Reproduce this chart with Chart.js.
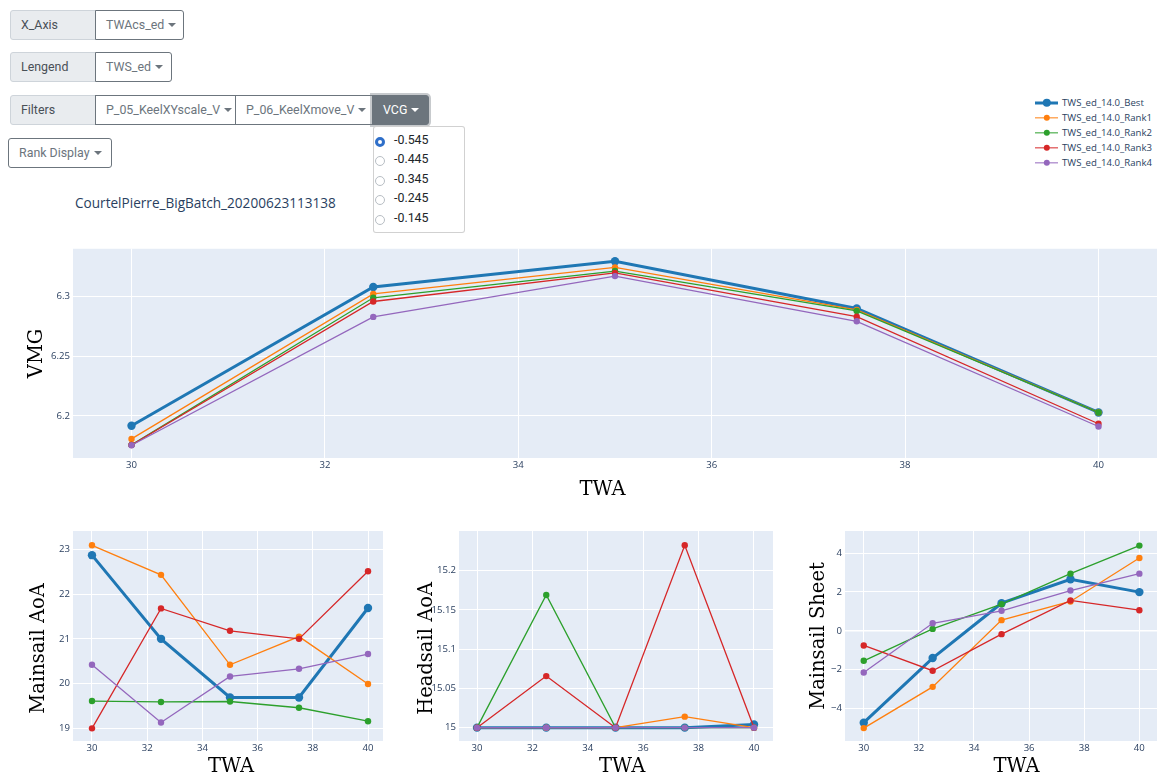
<!DOCTYPE html>
<html>
<head>
<meta charset="utf-8">
<title>VMG / sail settings by TWA</title>
<script src="https://cdn.jsdelivr.net/npm/chart.js@4.4.1/dist/chart.umd.min.js"></script>
<style>
  html, body { margin: 0; padding: 0; }
  body {
    width: 1157px; height: 776px; overflow: hidden; position: relative; background: #fff;
    font-family: Roboto, "Segoe UI", Arial, sans-serif; font-size: 12.4px; color: #495057;
  }
  .row { position: absolute; left: 10px; height: 30px; display: flex; }
  .addon {
    box-sizing: border-box; width: 86px; height: 30px; line-height: 28px; padding-left: 10px;
    background: #e9ecef; border: 1px solid #ced4da; border-radius: 3px 0 0 3px;
  }
  .dd {
    box-sizing: border-box; height: 30px; line-height: 28px; padding-left: 10px; background: #fff;
    border: 1px solid #6c757d; color: #6c757d; white-space: nowrap; margin-left: -1px;
  }
  .dd:last-child { border-radius: 0 3px 3px 0; }
  .dd.open { background: #6c757d; color: #fff; box-shadow: 0 0 0 2px rgba(130, 138, 145, .45); }
  .caret {
    display: inline-block; margin-left: 4px; vertical-align: 2px;
    border-top: 4px solid; border-left: 4px solid transparent; border-right: 4px solid transparent;
  }
  #rank {
    position: absolute; left: 8px; top: 138px; width: 104px; height: 30px; box-sizing: border-box;
    border: 1px solid #6c757d; border-radius: 3px; color: #6c757d; line-height: 28px; padding-left: 10px;
  }
  #menu {
    position: absolute; left: 373px; top: 126px; width: 92px; height: 107px; box-sizing: border-box;
    border: 1px solid rgba(0, 0, 0, .18); border-radius: 3px; background: #fff; z-index: 5;
  }
  .opt { position: absolute; left: 0; width: 90px; height: 20px; }
  .opt .rd {
    position: absolute; left: 1px; top: 7px; width: 10px; height: 10px; box-sizing: border-box;
    border-radius: 50%; border: 1px solid #b8bec4; background: #fff;
  }
  .opt .rd.on { border: 3px solid #2f6fc9; }
  .opt .tx { position: absolute; left: 20px; top: 0; line-height: 20px; color: #212529; }
  #figTitle {
    position: absolute; left: 75px; top: 193px; font-family: "Open Sans", sans-serif;
    font-size: 13.6px; color: #2a3f5f; white-space: nowrap;
  }
  #legend {
    position: absolute; left: 1035px; top: 95px; font-family: "Open Sans", sans-serif;
    font-size: 9.6px; color: #2a3f5f; z-index: 3;
  }
  .li { position: relative; height: 15px; width: 120px; }
  .li .ln { position: absolute; left: 0; width: 23px; top: 50%; transform: translateY(-50%); }
  .li .dt { position: absolute; border-radius: 50%; top: 50%; transform: translate(-50%, -50%); left: 11.5px; }
  .li .lt { position: absolute; left: 27px; top: 0; line-height: 15px; white-space: nowrap; }
  canvas { position: absolute; }
</style>
</head>
<body>

<div class="row" style="top:10px">
  <div class="addon">X_Axis</div>
  <div class="dd" style="width:89px">TWAcs_ed<span class="caret"></span></div>
</div>
<div class="row" style="top:52px">
  <div class="addon">Lengend</div>
  <div class="dd" style="width:77px">TWS_ed<span class="caret"></span></div>
</div>
<div class="row" style="top:95px">
  <div class="addon">Filters</div>
  <div class="dd" style="width:141px">P_05_KeelXYscale_V<span class="caret"></span></div>
  <div class="dd" style="width:138px">P_06_KeelXmove_V<span class="caret"></span></div>
  <div class="dd open" style="width:57px">VCG<span class="caret"></span></div>
</div>
<div id="rank">Rank Display<span class="caret"></span></div>
<div id="menu"></div>

<div id="figTitle">CourtelPierre_BigBatch_20200623113138</div>
<div id="legend"></div>

<canvas id="vmgChart" width="1157" height="270" style="left:0;top:240px"></canvas>
<canvas id="mainAoaChart" width="386" height="265" style="left:0;top:520px"></canvas>
<canvas id="headAoaChart" width="387" height="265" style="left:386px;top:520px"></canvas>
<canvas id="sheetChart" width="385" height="265" style="left:772px;top:520px"></canvas>

<script>
const twa = [30, 32.5, 35, 37.5, 40];
const seriesNames = [
  "TWS_ed_14.0_Best",
  "TWS_ed_14.0_Rank1",
  "TWS_ed_14.0_Rank2",
  "TWS_ed_14.0_Rank3",
  "TWS_ed_14.0_Rank4",
];
const seriesColors = ["#1f77b4", "#ff7f0e", "#2ca02c", "#d62728", "#9467bd"];
const vcgOptions = ["-0.545", "-0.445", "-0.345", "-0.245", "-0.145"];

// VMG
const vmgBest = [6.1916, 6.3079, 6.3295, 6.2899, 6.2028];
const vmgRank1 = [6.1806, 6.3022, 6.3244, 6.2888, 6.2028];
const vmgRank2 = [6.1756, 6.2989, 6.3213, 6.2879, 6.2028];
const vmgRank3 = [6.1755, 6.2958, 6.3197, 6.2831, 6.1933];
const vmgRank4 = [6.1753, 6.2829, 6.3171, 6.2792, 6.1910];

// Mainsail AoA
const mainAoaBest = [22.87, 21.0, 19.69, 19.69, 21.69];
const mainAoaRank1 = [23.09, 22.43, 20.42, 21.05, 19.99];
const mainAoaRank2 = [19.61, 19.59, 19.6, 19.46, 19.16];
const mainAoaRank3 = [19.0, 21.68, 21.18, 21.0, 22.51];
const mainAoaRank4 = [20.42, 19.13, 20.16, 20.33, 20.66];

// Headsail AoA
const headAoaBest = [15, 15, 15, 15, 15.004];
const headAoaRank1 = [15, 15, 15, 15.014, 15];
const headAoaRank2 = [15, 15.169, 15, 15, 15];
const headAoaRank3 = [15, 15.0657, 15, 15.2323, 15];
const headAoaRank4 = [15, 15, 15, 15, 15];

// Mainsail Sheet
const sheetBest = [-4.72, -1.4, 1.42, 2.65, 1.99];
const sheetRank1 = [-5.0, -2.88, 0.55, 1.51, 3.74];
const sheetRank2 = [-1.54, 0.1, 1.37, 2.94, 4.38];
const sheetRank3 = [-0.75, -2.05, -0.17, 1.56, 1.06];
const sheetRank4 = [-2.14, 0.39, 1.03, 2.07, 2.94];

// tick labels
const twaTicks = [30, 32, 34, 36, 38, 40];
const vmgTicks = [6.2, 6.25, 6.3];
const mainAoaTicks = [19, 20, 21, 22, 23];
const headAoaTicks = [15, 15.05, 15.1, 15.15, 15.2];
const sheetTicks = [-4, -2, 0, 2, 4];

const tickFont = { family: '"Open Sans", sans-serif', size: 9.6 };
const tickColor = "#2a3f5f";
const titleFont = { family: '"DejaVu Serif", serif', size: 19.5, lineHeight: 1.2 };
const nb = "\u00a0"; // used to nudge the axis titles off-centre like the original

function fmt(v) {
  return String(Math.round(v * 10000) / 10000).replace("-", "\u2212");
}

const plotBg = {
  id: "plotBg",
  beforeDraw(chart) {
    const { ctx, chartArea: a } = chart;
    ctx.save();
    ctx.fillStyle = "#e5ecf6";
    ctx.fillRect(a.left, a.top, a.width, a.height);
    ctx.restore();
  },
};

function makeDatasets(list) {
  return list.map((vals, i) => ({
    label: seriesNames[i],
    data: twa.map((x, j) => ({ x: x, y: vals[j] })),
    borderColor: seriesColors[i],
    backgroundColor: seriesColors[i],
    borderWidth: i === 0 ? 3 : 1.3,
    pointRadius: i === 0 ? 4.2 : 3.2,
    pointBorderWidth: 0,
    pointHoverRadius: i === 0 ? 4.2 : 3.2,
    order: 5 - i,
  }));
}

function makeChart(id, list, c) {
  return new Chart(document.getElementById(id), {
    type: "line",
    data: { datasets: makeDatasets(list) },
    plugins: [plotBg],
    options: {
      responsive: false,
      animation: false,
      events: [],
      layout: { autoPadding: false, padding: { top: c.padTop, right: c.padRight, left: 0, bottom: 0 } },
      plugins: { legend: { display: false }, tooltip: { enabled: false } },
      scales: {
        x: {
          type: "linear",
          min: c.xMin,
          max: c.xMax,
          afterBuildTicks: (s) => { s.ticks = twaTicks.map((v) => ({ value: v })); },
          afterFit: (s) => { s.height = c.xAxisH; },
          grid: { color: "#ffffff", lineWidth: 1, drawTicks: false },
          border: { display: false },
          ticks: { font: tickFont, color: tickColor, padding: 2, maxRotation: 0, autoSkip: false, callback: fmt },
          title: { display: true, text: c.xTitle, font: titleFont, color: "#000", padding: { top: 0, bottom: c.xTitlePad } },
        },
        y: {
          type: "linear",
          min: c.yMin,
          max: c.yMax,
          afterBuildTicks: (s) => { s.ticks = c.yTicks.map((v) => ({ value: v })); },
          afterFit: (s) => { s.width = 73; },
          grid: {
            color: "#ffffff",
            drawTicks: false,
            lineWidth: (ctx) => (ctx.tick && ctx.tick.value === 0 ? 1.6 : 1),
          },
          border: { display: false },
          ticks: { font: tickFont, color: tickColor, padding: 3, autoSkip: false, callback: fmt },
          title: { display: true, text: c.yTitle, font: titleFont, color: "#000", padding: { top: c.yTitlePad, bottom: 0 } },
        },
      },
    },
  });
}

const vmgChart = makeChart("vmgChart", [vmgBest, vmgRank1, vmgRank2, vmgRank3, vmgRank4], {
  padTop: 8, padRight: 0, xAxisH: 52, xTitlePad: 8.3,
  xMin: 29.395, xMax: 40.605, yMin: 6.1646, yMax: 6.34,
  xTitle: "TWA" + nb.repeat(4),
  yTicks: vmgTicks, yTitle: "VMG", yTitlePad: 25.5,
});

makeChart("mainAoaChart", [mainAoaBest, mainAoaRank1, mainAoaRank2, mainAoaRank3, mainAoaRank4], {
  padTop: 11, padRight: 3, xAxisH: 44, xTitlePad: 6.3,
  xMin: 29.312, xMax: 40.543, yMin: 18.717, yMax: 23.41,
  xTitle: nb + "TWA",
  yTicks: mainAoaTicks, yTitle: "Mainsail AoA" + nb.repeat(4), yTitlePad: 27.5,
});

makeChart("headAoaChart", [headAoaBest, headAoaRank1, headAoaRank2, headAoaRank3, headAoaRank4], {
  padTop: 11, padRight: 0, xAxisH: 44, xTitlePad: 6.3,
  xMin: 29.35, xMax: 40.686, yMin: 14.983, yMax: 15.2505,
  xTitle: nb.repeat(2) + "TWA",
  yTicks: headAoaTicks, yTitle: "Headsail AoA" + nb.repeat(4), yTitlePad: 29,
});

makeChart("sheetChart", [sheetBest, sheetRank1, sheetRank2, sheetRank3, sheetRank4], {
  padTop: 11, padRight: 0, xAxisH: 44, xTitlePad: 6.3,
  xMin: 29.32, xMax: 40.64, yMin: -5.662, yMax: 5.131,
  xTitle: nb.repeat(5) + "TWA",
  yTicks: sheetTicks, yTitle: "Mainsail Sheet", yTitlePad: 35,
});

// html legend from the VMG chart datasets
const legendEl = document.getElementById("legend");
vmgChart.data.datasets.forEach((ds) => {
  const item = document.createElement("div");
  item.className = "li";
  const ln = document.createElement("span");
  ln.className = "ln";
  ln.style.background = ds.borderColor;
  ln.style.height = ds.borderWidth + "px";
  const dt = document.createElement("span");
  dt.className = "dt";
  dt.style.background = ds.borderColor;
  dt.style.width = dt.style.height = ds.pointRadius * 2 + "px";
  const lt = document.createElement("span");
  lt.className = "lt";
  lt.textContent = ds.label;
  item.append(ln, dt, lt);
  legendEl.appendChild(item);
});

// VCG dropdown menu
const menuEl = document.getElementById("menu");
vcgOptions.forEach((v, i) => {
  const opt = document.createElement("div");
  opt.className = "opt";
  opt.style.top = 2.5 + i * 19.5 + "px";
  opt.innerHTML = '<span class="rd' + (i === 0 ? " on" : "") + '"></span><span class="tx">' + v + "</span>";
  menuEl.appendChild(opt);
});
</script>
</body>
</html>
